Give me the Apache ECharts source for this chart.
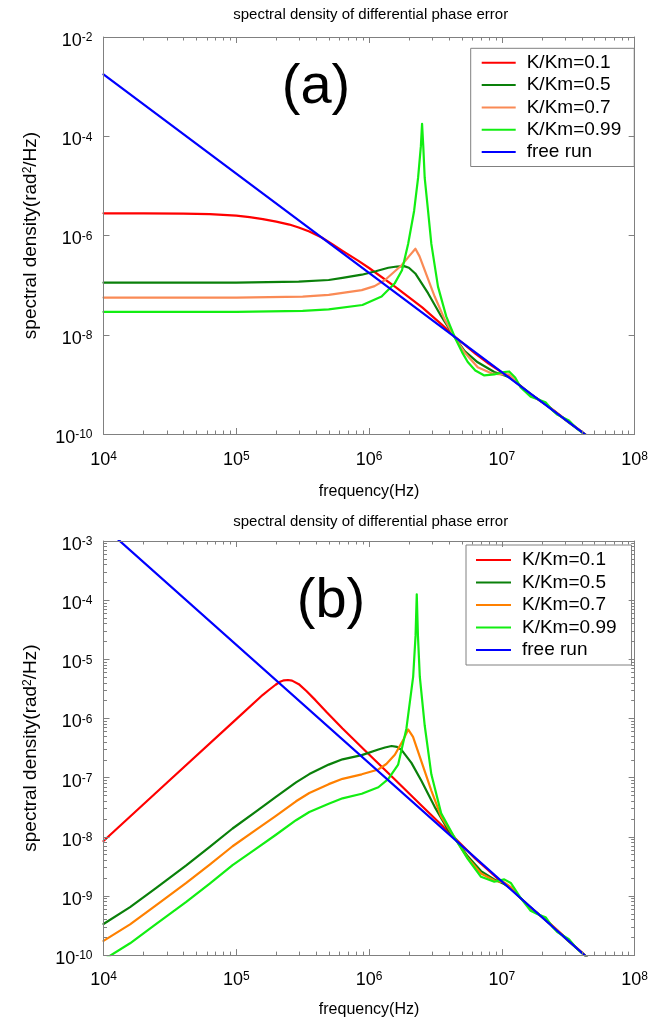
<!DOCTYPE html>
<html><head><meta charset="utf-8">
<script src="https://cdn.jsdelivr.net/npm/echarts/dist/echarts.min.js"></script>
<style>
html,body{margin:0;padding:0;background:#fff;width:651px;height:1023px;overflow:hidden}
#c1{position:absolute;left:0;top:0;width:651px;height:505px}
#c2{position:absolute;left:0;top:505px;width:651px;height:518px}
</style>
</head><body><div id="c1"></div><div id="c2"></div>
<script>
// ---------- tick lists ----------
const xMajor = [1e4, 1e5, 1e6, 1e7, 1e8];
const xDecades = [1e4, 1e5, 1e6, 1e7];
const yMajorA = [1e-10, 1e-8, 1e-6, 1e-4, 1e-2];
const yMajorB = [1e-10, 1e-9, 1e-8, 1e-7, 1e-6, 1e-5, 1e-4, 1e-3];
const yDecadesB = [1e-10, 1e-9, 1e-8, 1e-7, 1e-6, 1e-5, 1e-4];
const minorMult = [2, 3, 4, 5, 6, 7, 8, 9];
const legendNames = ['K/Km=0.1', 'K/Km=0.5', 'K/Km=0.7', 'K/Km=0.99', 'free run'];

// ---------- data (a) : [frequency Hz, spectral density rad^2/Hz] ----------
const freeRun = [[1e4, 1.758e-3], [5.012e7, 7.0e-11]];
const a_k01 = [
 [1e4,2.80e-6],[2e4,2.80e-6],[3.981e4,2.77e-6],[6.31e4,2.69e-6],[1e5,2.51e-6],[1.259e5,2.34e-6],
 [1.585e5,2.14e-6],[2e5,1.905e-6],[2.512e5,1.66e-6],[2.951e5,1.445e-6],[3.548e5,1.20e-6],
 [4.395e5,9.12e-7],[5.248e5,6.76e-7],[6.31e5,4.90e-7],[8.318e5,3.09e-7],
 [1e6,2.213e-7],[1.585e6,9.12e-8],[2.512e6,3.55e-8],[3.548e6,1.585e-8],
 [4.436e6,9.12e-9],[6.31e6,4.17e-9],[7.943e6,2.63e-9],[1e7,1.74e-9],
 [1.148e7,1.445e-9],[1.585e7,6.76e-10],[2.138e7,3.98e-10],[3.162e7,1.778e-10],[5.012e7,7.0e-11]
];
const a_k05 = [
 [1e4,1.122e-7],[1e5,1.122e-7],[2.951e5,1.175e-7],[4.966e5,1.268e-7],[6.31e5,1.396e-7],[8.81e5,1.622e-7],
 [1.122e6,1.905e-7],[1.396e6,2.239e-7],[1.622e6,2.37e-7],[1.837e6,2.41e-7],[1.995e6,2.24e-7],[2.228e6,1.718e-7],
 [2.78e6,6.87e-8],[3.491e6,2.366e-8],[4.436e6,8.71e-9],[5.248e6,4.68e-9],[6.577e6,2.786e-9],
 [8.77e6,1.778e-9],[1e7,1.585e-9],[1.148e7,1.38e-9],[1.38e7,9.33e-10],[1.66e7,6.31e-10],
 [2.138e7,3.89e-10],[3.162e7,1.738e-10],[5.012e7,7.0e-11]
];
const a_k07 = [
 [1e4,5.62e-8],[1e5,5.62e-8],[3.162e5,5.89e-8],[4.966e5,6.38e-8],[8.81e5,7.94e-8],[1.1e6,9.55e-8],
 [1.318e6,1.268e-7],[1.758e6,2.51e-7],[1.995e6,3.80e-7],[2.234e6,5.40e-7],[2.399e6,3.80e-7],
 [2.624e6,2.0e-7],[3.119e6,5.89e-8],[3.707e6,2.04e-8],[4.436e6,8.71e-9],[5.248e6,4.37e-9],
 [6.577e6,2.218e-9],[8.511e6,1.641e-9],[1e7,1.585e-9],[1.135e7,1.585e-9],[1.259e7,1.202e-9],
 [1.38e7,9.12e-10],[1.66e7,6.03e-10],[2.138e7,3.98e-10],[2.63e7,2.51e-10],[3.162e7,1.778e-10],[5.012e7,7.0e-11]
];
const a_k099 = [
 [1e4,2.884e-8],[1e5,2.884e-8],[3.162e5,3.02e-8],[4.966e5,3.236e-8],[8.913e5,3.98e-8],
 [1.242e6,5.89e-8],[1.563e6,1.096e-7],[1.77e6,2.0e-7],[1.968e6,6.76e-7],[2.183e6,3.126e-6],
 [2.339e6,1.445e-5],[2.455e6,6.31e-5],[2.506e6,1.778e-4],[2.559e6,6.31e-5],[2.624e6,1.445e-5],
 [2.78e6,3.162e-6],[2.944e6,6.76e-7],[3.304e6,9.33e-8],[3.811e6,2.344e-8],[4.436e6,8.71e-9],
 [5.012e6,4.47e-9],[5.534e6,2.818e-9],[6.31e6,1.905e-9],[7.379e6,1.514e-9],[8.77e6,1.585e-9],
 [1e7,1.738e-9],[1.135e7,1.82e-9],[1.259e7,1.38e-9],[1.387e7,8.71e-10],[1.648e7,5.62e-10],
 [1.862e7,5.01e-10],[2.133e7,4.365e-10],[2.399e7,3.02e-10],[2.612e7,2.455e-10],[3.199e7,1.862e-10],
 [3.631e7,1.318e-10],[5.012e7,7.0e-11]
];

// ---------- data (b) ----------
const b_k01 = [
 [1e4,8.49e-9],[3.162e4,9.12e-8],[1e5,9.77e-7],[1.585e5,2.512e-6],[1.778e5,3.09e-6],
 [1.977e5,3.715e-6],[2.138e5,4.169e-6],[2.286e5,4.416e-6],[2.455e5,4.467e-6],[2.63e5,4.365e-6],
 [2.958e5,3.80e-6],[3.388e5,2.884e-6],[3.945e5,2.042e-6],[4.819e5,1.259e-6],[6.31e5,6.76e-7],
 [1e6,2.455e-7],[1.585e6,9.02e-8],[2.512e6,3.289e-8],
 [3.548e6,1.549e-8],[4.406e6,9.62e-9],[6.31e6,4.27e-9],[7.943e6,2.69e-9],[1e7,1.698e-9],
 [1.148e7,1.413e-9],[1.585e7,6.76e-10],[2.138e7,3.98e-10],[3.162e7,1.778e-10],[5.012e7,7.0e-11]
];
const b_k05 = [
 [1e4,3.357e-10],[1.585e4,6.46e-10],[2.512e4,1.38e-9],[4.2e4,3.281e-9],[6.31e4,6.76e-9],
 [9.376e4,1.38e-8],[1.413e5,2.69e-8],[1.977e5,4.68e-8],[2.818e5,8.32e-8],[3.548e5,1.148e-7],
 [4.966e5,1.66e-7],[6.31e5,2.04e-7],[8.81e5,2.399e-7],[1.175e6,2.985e-7],[1.318e6,3.236e-7],
 [1.476e6,3.428e-7],[1.622e6,3.311e-7],[1.754e6,2.944e-7],
 [2.084e6,1.774e-7],[2.477e6,8.83e-8],[3.119e6,3.206e-8],[3.926e6,1.321e-8],[4.406e6,9.62e-9],
 [5.534e6,4.68e-9],[6.966e6,2.63e-9],[8.77e6,1.905e-9],[1.042e7,1.585e-9],[1.167e7,1.349e-9],
 [1.387e7,9.12e-10],[1.66e7,6.31e-10],[2.138e7,3.89e-10],[3.162e7,1.738e-10],[5.012e7,7.0e-11]
];
const b_k07 = [
 [1e4,1.738e-10],[1.585e4,3.31e-10],[2.512e4,7.08e-10],[4.2e4,1.66e-9],[6.31e4,3.39e-9],
 [9.376e4,6.92e-9],[1.413e5,1.318e-8],[1.977e5,2.239e-8],[2.818e5,3.98e-8],[3.548e5,5.50e-8],
 [4.966e5,7.76e-8],[6.31e5,9.55e-8],[8.81e5,1.138e-7],[1.175e6,1.374e-7],[1.349e6,1.698e-7],
 [1.563e6,2.432e-7],[1.807e6,4.305e-7],
 [1.968e6,6.53e-7],[2.143e6,4.875e-7],[2.477e6,1.888e-7],[2.944e6,6.04e-8],[3.491e6,2.193e-8],
 [4.406e6,9.62e-9],[5.534e6,4.365e-9],[6.966e6,2.399e-9],[8.77e6,1.82e-9],[1.042e7,1.698e-9],
 [1.167e7,1.413e-9],[1.387e7,9.12e-10],[1.66e7,6.17e-10],[2.138e7,3.98e-10],[3.162e7,1.778e-10],[5.012e7,7.0e-11]
];
const b_k099 = [
 [1e4,8.32e-11],[1.585e4,1.585e-10],[2.512e4,3.39e-10],[4.2e4,7.94e-10],[6.31e4,1.622e-9],
 [9.376e4,3.31e-9],[1.413e5,6.31e-9],[1.977e5,1.072e-8],[2.818e5,1.905e-8],[3.548e5,2.63e-8],
 [4.966e5,3.63e-8],[6.31e5,4.47e-8],[8.81e5,5.33e-8],[1.175e6,6.87e-8],[1.393e6,9.42e-8],[1.656e6,1.663e-7],
 [1.91e6,6.71e-7],[2.148e6,5.08e-6],[2.239e6,2.512e-5],[2.286e6,1.259e-4],[2.333e6,2.512e-5],
 [2.41e6,5.08e-6],[2.624e6,7.60e-7],[2.944e6,1.138e-7],[3.491e6,2.489e-8],[4.406e6,9.62e-9],
 [5.534e6,4.227e-9],[6.966e6,2.104e-9],[8.77e6,1.738e-9],[1.042e7,1.905e-9],[1.167e7,1.66e-9],
 [1.387e7,9.23e-10],[1.648e7,5.62e-10],[1.862e7,4.90e-10],[2.133e7,4.365e-10],[2.399e7,3.02e-10],
 [2.612e7,2.455e-10],[3.199e7,1.862e-10],[3.631e7,1.318e-10],[5.012e7,7.0e-11]
];

// ---------- styling ----------
const FONT = '"Liberation Sans", Arial, Helvetica, sans-serif';
const GRAY = '#808080';
const xMinor = xDecades.flatMap(d => minorMult.map(m => m * d));
const yMinorB = yDecadesB.flatMap(d => minorMult.map(m => m * d));

function powLabel(v) {
  const e = Math.round(Math.log10(v));
  return '{b|10}{s|' + e + '}';
}
const labelRich = {
  b: {fontSize: 18, lineHeight: 18, padding: [8, 0, 8, 0], color: '#000', fontFamily: FONT},
  s: {fontSize: 12, lineHeight: 12, verticalAlign: 'top', color: '#000', fontFamily: FONT}
};

function logAxis(pos, min, max, major, opts) {
  const ax = {
    type: 'log', logBase: 10, min: min, max: max, position: pos, gridIndex: 0,
    splitLine: {show: false}, minorTick: {show: false},
    axisLine: {show: !!opts.line, onZero: false, lineStyle: {color: GRAY, width: 1}},
    axisTick: {show: true, inside: true, length: opts.tickLen, customValues: major,
               lineStyle: {color: GRAY, width: 1}},
    axisLabel: {show: false},
    silent: true, z: 5
  };
  if (opts.labels) {
    ax.axisLabel = {show: true, customValues: major, formatter: powLabel, rich: labelRich,
                    margin: opts.margin, hideOverlap: false};
    if (opts.labelPad) ax.axisLabel.padding = opts.labelPad;
  }
  if (opts.name) {
    ax.name = opts.name; ax.nameLocation = 'middle'; ax.nameGap = opts.nameGap;
    ax.nameTextStyle = {color: '#000', fontFamily: FONT, fontSize: opts.nameSize,
      rich: {sup: {fontSize: 12, lineHeight: 12, verticalAlign: 'top', color: '#000', fontFamily: FONT}}};
  }
  return ax;
}

function mkSeries(name, data, color) {
  return {name: name, type: 'line', data: data, showSymbol: false, symbol: 'none',
          smooth: false, clip: true, silent: true,
          lineStyle: {width: 2.2, color: color, join: 'round', cap: 'round'}, itemStyle: {color: color},
          emphasis: {disabled: true}};
}

function makeOption(c) {
  const xAxes = [
    logAxis('bottom', 1e4, 1e8, xMajor, {line: true, tickLen: 6, labels: true, margin: c.xMargin,
      name: 'frequency(Hz)', nameGap: c.xNameGap, nameSize: 16}),
    logAxis('bottom', 1e4, 1e8, xMinor, {line: false, tickLen: 3.5}),
    logAxis('top', 1e4, 1e8, xMajor, {line: true, tickLen: 6}),
    logAxis('top', 1e4, 1e8, xMinor, {line: false, tickLen: 3.5})
  ];
  const yAxes = [
    logAxis('left', c.yMin, c.yMax, c.yMajor, {line: true, tickLen: 6, labels: true, margin: 11,
      labelPad: [8, 0, 0, 0],
      name: 'spectral density(rad{sup|2}/Hz)', nameGap: 63, nameSize: 19}),
    logAxis('right', c.yMin, c.yMax, c.yMajor, {line: true, tickLen: 6})
  ];
  if (c.yMinor) {
    yAxes.push(logAxis('left', c.yMin, c.yMax, c.yMinor, {line: false, tickLen: 3.5}));
    yAxes.push(logAxis('right', c.yMin, c.yMax, c.yMinor, {line: false, tickLen: 3.5}));
  }
  return {
    animation: false,
    backgroundColor: '#fff',
    textStyle: {fontFamily: FONT},
    grid: {left: 103.5, top: c.gridTop, width: 534.4, height: c.gridHeight, containLabel: false},
    xAxis: xAxes,
    yAxis: yAxes,
    legend: {
      data: legendNames, orient: 'vertical', left: c.legLeft, top: c.legTop,
      padding: c.legPad, itemGap: c.legGap, itemWidth: c.legIconW, itemHeight: 2,
      icon: 'rect',
      backgroundColor: '#fff', borderColor: GRAY, borderWidth: 1, borderRadius: 0,
      selectedMode: false,
      textStyle: {fontSize: 19, lineHeight: 19, color: '#000', fontFamily: FONT, padding: [0, 0, 0, 6]}
    },
    graphic: [
      {type: 'text', x: 370.7, y: c.titleY, silent: true,
       style: {text: 'spectral density of differential phase error', fontSize: 15, fontFamily: FONT,
               fill: '#000', align: 'center', verticalAlign: 'middle',
               textAlign: 'center', textVerticalAlign: 'middle'}},
      {type: 'text', x: c.tagX, y: c.tagY, silent: true, z: 10,
       style: {text: c.tag, fontSize: 56, fontFamily: FONT, fill: '#000', align: 'center',
               verticalAlign: 'middle', textAlign: 'center', textVerticalAlign: 'middle'}}
    ],
    series: [
      mkSeries(legendNames[0], c.s[0], '#FF0000'),
      mkSeries(legendNames[1], c.s[1], '#0A800A'),
      mkSeries(legendNames[2], c.s[2], c.orange),
      mkSeries(legendNames[3], c.s[3], '#12EE12'),
      mkSeries(legendNames[4], c.s[4], '#0000FF')
    ]
  };
}

const chartA = echarts.init(document.getElementById('c1'), null, {renderer: 'canvas'});
chartA.setOption(makeOption({
  gridTop: 37, gridHeight: 403, yMin: 1e-10, yMax: 1e-2, yMajor: yMajorA, yMinor: null,
  xMargin: 17, xNameGap: 50, legLeft: 470.7, legTop: 48.3, legPad: [5, 13, 5, 11], legGap: 3.3,
  legIconW: 34, titleY: 15, tag: '(a)', tagX: 316, tagY: 88, orange: '#FA8A55',
  s: [a_k01, a_k05, a_k07, a_k099, freeRun]
}));

const chartB = echarts.init(document.getElementById('c2'), null, {renderer: 'canvas'});
chartB.setOption(makeOption({
  gridTop: 36, gridHeight: 424, yMin: 1e-10, yMax: 1e-3, yMajor: yMajorB, yMinor: yMinorB,
  xMargin: 16, xNameGap: 36, legLeft: 466, legTop: 40, legPad: [5.5, 15, 5.5, 10], legGap: 3.5,
  legIconW: 35, titleY: 17, tag: '(b)', tagX: 331, tagY: 97, orange: '#FF8000',
  s: [b_k01, b_k05, b_k07, b_k099, freeRun]
}));
</script>
</body></html>
